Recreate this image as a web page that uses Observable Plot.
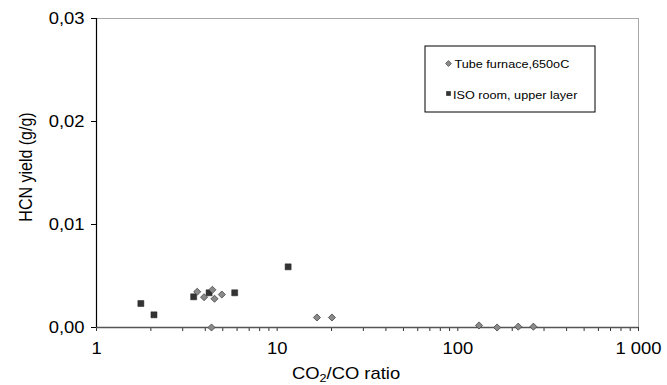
<!DOCTYPE html>
<html>
<head>
<meta charset="utf-8">
<script src="https://cdn.jsdelivr.net/npm/d3@7"></script>
<script src="https://cdn.jsdelivr.net/npm/@observablehq/plot@0.6"></script>
<style>
  html, body { margin: 0; padding: 0; background: #fff; }
  #chart svg { display: block; font-family: "Liberation Sans", Arial, sans-serif; }
</style>
</head>
<body>
<div id="chart"></div>
<script>
// HCN yield against CO2/CO ratio for two test set-ups
const tubeRatio = [3.61, 3.94, 4.38, 4.50, 4.94, 4.33, 16.6, 20.1, 131, 165, 216, 262];
const tubeHCN   = [0.00347, 0.00294, 0.00366, 0.00279, 0.00320, 0.0, 0.00097, 0.00097, 0.00020, 0.0, 0.00008, 0.00008];

const isoRatio = [1.76, 2.08, 3.45, 4.20, 5.82, 11.5];
const isoHCN   = [0.00233, 0.00123, 0.00298, 0.00337, 0.00337, 0.00589];

const seriesNames = ["Tube furnace,650oC", "ISO room, upper layer"];

const xTickValues = [1, 10, 100, 1000];
const xTickLabels = ["1", "10", "100", "1 000"];
const yTickValues = [0, 0.01, 0.02, 0.03];
const yTickLabels = ["0,00", "0,01", "0,02", "0,03"];

const tube = tubeRatio.map((r, i) => ({ratio: r, hcn: tubeHCN[i]}));
const iso = isoRatio.map((r, i) => ({ratio: r, hcn: isoHCN[i]}));

// minor log ticks 2..9 within each decade
const minorTicks = [];
for (let d = 1; d < 1000; d *= 10) for (let k = 2; k <= 9; k++) minorTicks.push(d * k);

const W = 667, H = 385;
const mL = 96, mR = 29, mT = 18, mB = 58;

const tubeColor = "#8a8a8a";
const isoColor = "#333333";

const chart = Plot.plot({
  width: W,
  height: H,
  marginLeft: mL,
  marginRight: mR,
  marginTop: mT,
  marginBottom: mB,
  style: {fontSize: "16px", fontFamily: "Liberation Sans, Arial, sans-serif", color: "#000", background: "#fff"},
  x: {type: "log", domain: [1, 1000]},
  y: {domain: [0, 0.03]},
  marks: [
    Plot.frame({stroke: "#a8a8a8"}),
    Plot.axisX({ticks: minorTicks, tickSize: 4, text: null, label: null, stroke: "#333"}),
    Plot.axisX({
      ticks: xTickValues,
      tickSize: 4,
      tickPadding: 11,
      tickFormat: (d) => xTickLabels[xTickValues.indexOf(d)],
      fontSize: 16,
      stroke: "#333",
      label: null
    }),
    Plot.axisY({
      ticks: yTickValues,
      tickSize: 5,
      tickPadding: 7,
      tickFormat: (d) => yTickLabels[yTickValues.indexOf(d)],
      fontSize: 16,
      label: null
    }),
    Plot.ruleY([0], {stroke: "#555", strokeWidth: 1.3}),
    Plot.ruleX([1], {stroke: "#000", strokeWidth: 1.2}),
    Plot.dot(iso, {x: "ratio", y: "hcn", symbol: "square", r: 3.4, fill: isoColor, stroke: "#222", strokeWidth: 0.5}),
    Plot.dot(tube, {x: "ratio", y: "hcn", symbol: "diamond2", r: 3.2, fill: tubeColor, stroke: "#444", strokeWidth: 0.8})
  ]
});

document.getElementById("chart").appendChild(chart);

const svg = d3.select(chart);
const sx = 1.15;

// widen the text glyphs a little, anchored at each label's own origin
svg.selectAll("text").each(function () {
  const t = d3.select(this);
  const tr = t.attr("transform");
  if (tr) {
    t.attr("transform", tr + ` scale(${sx},1)`);
  } else {
    const x = +t.attr("x") || 0, y = +t.attr("y") || 0;
    t.attr("x", null).attr("y", null).attr("transform", `translate(${x},${y}) scale(${sx},1)`);
  }
});

// axis titles
const xt = svg.append("text")
  .attr("transform", `translate(346,379) scale(${sx},1)`)
  .attr("text-anchor", "middle")
  .attr("font-size", 16)
  .attr("fill", "#000");
xt.append("tspan").text("CO");
xt.append("tspan").attr("font-size", 11).attr("dy", 3).text("2");
xt.append("tspan").attr("dy", -3).text("/CO ratio");

svg.append("text")
  .attr("transform", `translate(32,167) scale(${sx},1) rotate(-90)`)
  .attr("text-anchor", "middle")
  .attr("font-size", 16)
  .attr("fill", "#000")
  .text("HCN yield (g/g)");

// legend box
const lg = svg.append("g").attr("text-anchor", "start");
lg.append("rect")
  .attr("x", 425).attr("y", 46)
  .attr("width", 170).attr("height", 66)
  .attr("fill", "#fff").attr("stroke", "#000").attr("stroke-width", 1);
lg.append("path")
  .attr("d", d3.symbol(d3.symbolDiamond2, 22)())
  .attr("transform", "translate(448.5,63.5)")
  .attr("fill", tubeColor).attr("stroke", "#444").attr("stroke-width", 0.7);
lg.append("path")
  .attr("d", d3.symbol(d3.symbolSquare, 22)())
  .attr("transform", "translate(448.5,93.5)")
  .attr("fill", isoColor);
lg.append("text")
  .attr("transform", `translate(454.5,67.5) scale(${sx},1)`)
  .attr("text-anchor", "start")
  .attr("font-size", 11).attr("fill", "#000")
  .text(seriesNames[0]);
lg.append("text")
  .attr("transform", `translate(453,98.5) scale(${sx},1)`)
  .attr("text-anchor", "start")
  .attr("font-size", 11).attr("fill", "#000")
  .text(seriesNames[1]);
</script>
</body>
</html>
